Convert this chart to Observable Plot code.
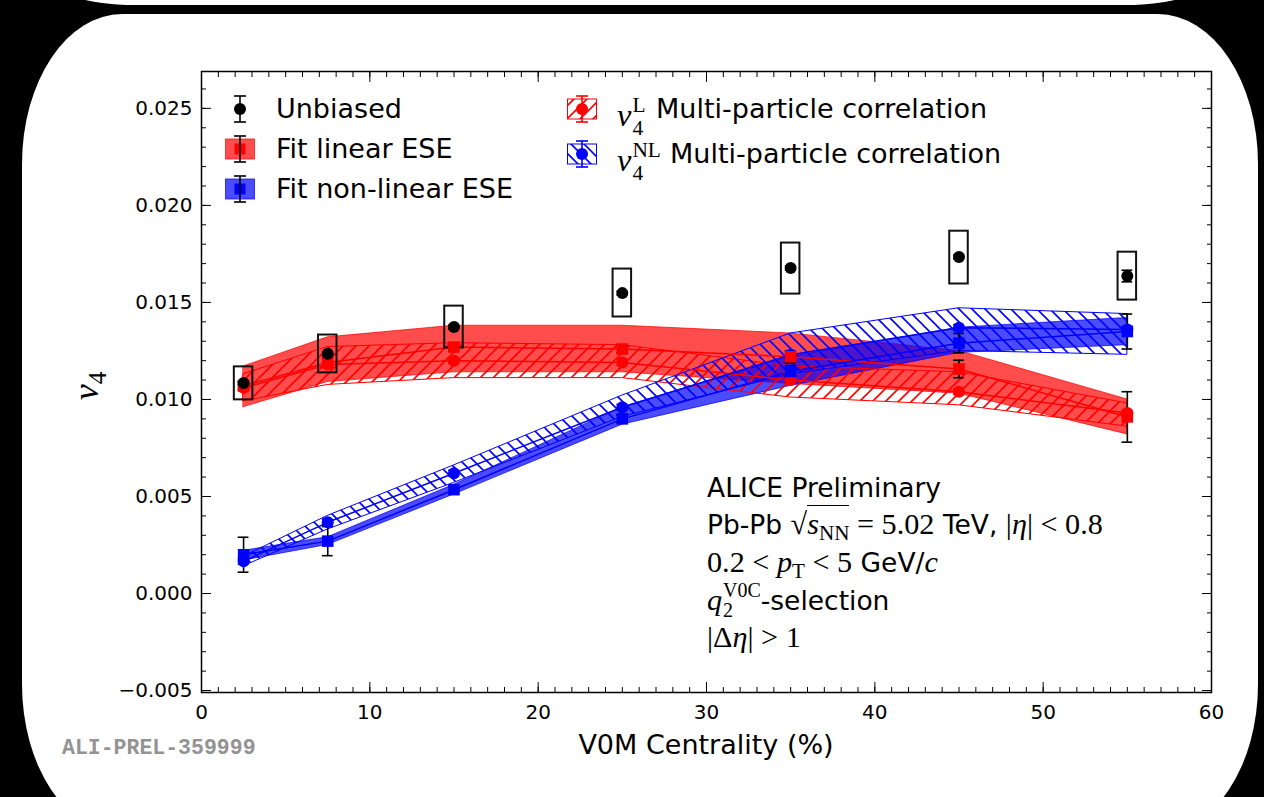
<!DOCTYPE html>
<html><head><meta charset="utf-8">
<script src="https://cdn.jsdelivr.net/npm/d3@7"></script>
<script src="https://cdn.jsdelivr.net/npm/@observablehq/plot@0.6"></script>
<style>
html,body{margin:0;padding:0;background:#000;width:1264px;height:797px;overflow:hidden;font-family:"DejaVu Sans",sans-serif;color:#000;}
#topstrip{position:absolute;left:45px;top:-30px;width:1170px;height:35px;background:#fff;border-radius:0 0 90px 90px / 0 0 30px 30px;}
#panel{position:absolute;left:22px;top:14px;width:1236px;height:820px;background:#fff;border-radius:100px/150px;}
#chart{position:absolute;left:0;top:0;}
.abs{position:absolute;white-space:nowrap;}
.leg{font-size:27px;line-height:30px;height:30px;}
.ann{font-size:26.5px;line-height:36px;height:36px;}
.m{font-family:"Liberation Serif","DejaVu Serif",serif;font-size:1.14em;}
.m i{font-style:italic;}
.ss{display:inline-block;vertical-align:-0.42em;line-height:1.08;font-size:0.66em;text-align:left;margin-left:1px;}
.ss span{display:block;}
.sub{font-size:0.7em;vertical-align:-0.3em;}
</style></head>
<body>
<svg width="0" height="0" style="position:absolute">
  <defs>
    <pattern id="hatchR" patternUnits="userSpaceOnUse" width="13" height="13">
      <path d="M-3,3 L3,-3 M0,13 L13,0 M10,16 L16,10" stroke="#ff0000" stroke-width="1.6"/>
    </pattern>
    <pattern id="hatchB" patternUnits="userSpaceOnUse" width="13" height="13">
      <path d="M-3,10 L3,16 M0,0 L13,13 M10,-3 L16,3" stroke="#0000ff" stroke-width="1.6"/>
    </pattern>
  </defs>
</svg>
<div id="topstrip"></div>
<div id="panel"></div>
<div id="chart"></div>

<!-- legend -->
<div class="abs" style="left:224px;top:94px;">
<svg width="32" height="30"><line x1="16" y1="2" x2="16" y2="28" stroke="#000" stroke-width="1.6"/><line x1="10" y1="2" x2="22" y2="2" stroke="#000" stroke-width="1.6"/><line x1="10" y1="28" x2="22" y2="28" stroke="#000" stroke-width="1.6"/><circle cx="16" cy="15" r="6" fill="#000"/></svg></div>
<div class="abs leg" style="left:276px;top:94px;">Unbiased</div>

<div class="abs" style="left:224px;top:134px;">
<svg width="32" height="30"><rect x="1.5" y="5" width="29" height="20" fill="rgba(255,0,0,0.7)" stroke="rgba(255,0,0,0.7)"/><rect x="10.5" y="9.5" width="11" height="11" fill="#ff0000"/><line x1="16" y1="2" x2="16" y2="28" stroke="#000" stroke-width="1.6"/><line x1="10" y1="2" x2="22" y2="2" stroke="#000" stroke-width="1.6"/><line x1="10" y1="28" x2="22" y2="28" stroke="#000" stroke-width="1.6"/></svg></div>
<div class="abs leg" style="left:276px;top:134px;">Fit linear ESE</div>

<div class="abs" style="left:224px;top:174px;">
<svg width="32" height="30"><rect x="1.5" y="5" width="29" height="20" fill="rgba(0,0,255,0.7)" stroke="rgba(0,0,255,0.7)"/><rect x="10.5" y="9.5" width="11" height="11" fill="#0000ff"/><line x1="16" y1="2" x2="16" y2="28" stroke="#000" stroke-width="1.6"/><line x1="10" y1="2" x2="22" y2="2" stroke="#000" stroke-width="1.6"/><line x1="10" y1="28" x2="22" y2="28" stroke="#000" stroke-width="1.6"/></svg></div>
<div class="abs leg" style="left:276px;top:174px;">Fit non-linear ESE</div>

<div class="abs" style="left:566px;top:94px;">
<svg width="32" height="30"><rect x="1.5" y="5" width="29" height="20" fill="url(#hatchR)" stroke="#ff0000" stroke-width="1"/><line x1="16" y1="2" x2="16" y2="28" stroke="#ff0000" stroke-width="1.6"/><line x1="10" y1="2" x2="22" y2="2" stroke="#ff0000" stroke-width="1.6"/><line x1="10" y1="28" x2="22" y2="28" stroke="#ff0000" stroke-width="1.6"/><circle cx="16" cy="15" r="6" fill="#ff0000"/></svg></div>
<div class="abs leg" style="left:617px;top:94px;"><span class="m" style="font-size:1.2em"><i>v</i><span class="ss"><span>L</span><span>4</span></span></span></div>
<div class="abs leg" style="left:656px;top:94px;">Multi-particle correlation</div>

<div class="abs" style="left:566px;top:139px;">
<svg width="32" height="30"><rect x="1.5" y="5" width="29" height="20" fill="url(#hatchB)" stroke="#0000ff" stroke-width="1"/><line x1="16" y1="2" x2="16" y2="28" stroke="#0000ff" stroke-width="1.6"/><line x1="10" y1="2" x2="22" y2="2" stroke="#0000ff" stroke-width="1.6"/><line x1="10" y1="28" x2="22" y2="28" stroke="#0000ff" stroke-width="1.6"/><circle cx="16" cy="15" r="6" fill="#0000ff"/></svg></div>
<div class="abs leg" style="left:617px;top:139px;"><span class="m" style="font-size:1.2em"><i>v</i><span class="ss"><span>NL</span><span>4</span></span></span></div>
<div class="abs leg" style="left:670px;top:139px;">Multi-particle correlation</div>

<!-- annotation -->
<div class="abs ann" style="left:707px;top:470px;">ALICE Preliminary</div>
<div class="abs ann" style="left:707px;top:506px;">Pb-Pb <span class="m">√<span style="border-top:1.5px solid #000;padding-top:1px;"><i>s</i><span class="sub">NN</span></span> = 5.02</span> TeV, <span class="m">|<i>η</i>| &lt; 0.8</span></div>
<div class="abs ann" style="left:707px;top:544px;"><span class="m">0.2 &lt; <i>p</i><span class="sub">T</span> &lt; 5</span> GeV/<span class="m"><i>c</i></span></div>
<div class="abs ann" style="left:707px;top:581px;height:34px;"><span class="m"><i>q</i><span class="ss" style="line-height:1.0;vertical-align:-0.36em"><span>V0C</span><span>2</span></span></span>-selection</div>
<div class="abs ann" style="left:707px;top:624px;height:26px;line-height:26px;"><span class="m">|Δ<i>η</i>| &gt; 1</span></div>

<!-- axis titles -->
<div class="abs" style="left:706px;top:728px;transform:translateX(-50%);font-size:27px;line-height:34px;">V0M Centrality (%)</div>
<div class="abs" style="left:92px;top:386px;transform:translate(-50%,-50%) rotate(-90deg);font-size:36px;line-height:40px;font-family:'Liberation Serif',serif;"><i>v</i><span class="sub">4</span></div>
<div class="abs" style="left:62px;top:736px;font-family:'Liberation Mono','DejaVu Sans Mono',monospace;font-weight:bold;font-size:21.5px;line-height:24px;color:#939393;">ALI-PREL-359999</div>

<script>
// ---- data ----
const centrality = [2.5, 7.5, 15, 25, 35, 45, 55];

const unbiasedV4   = [0.01085, 0.01235, 0.01373, 0.01548, 0.01677, 0.01734, 0.01636];
const unbiasedStat = [0.0001, 0.0001, 0.0001, 0.0001, 0.0001, 0.0001, 0.0003];
const unbiasedSysLo = [0.00998, 0.01137, 0.01265, 0.01425, 0.01543, 0.01595, 0.01512];
const unbiasedSysHi = [0.01168, 0.01332, 0.01481, 0.01672, 0.01806, 0.01867, 0.01759];

const linFitV4  = [0.0107, 0.0119, 0.0127, 0.0126, 0.0122, 0.01157, 0.0091];
const linFitErr = [0.0002, 0.0002, 0.0002, 0.0002, 0.0003, 0.00045, 0.0013];
const linFitLo  = [0.0096, 0.0109, 0.0114, 0.0114, 0.0108, 0.0103, 0.0082];
const linFitHi  = [0.0117, 0.0132, 0.0138, 0.0138, 0.0134, 0.0125, 0.0100];

const nlFitV4  = [0.0020, 0.0027, 0.00535, 0.0090, 0.01144, 0.0129, 0.0135];
const nlFitErr = [0.0009, 0.00075, 0.0002, 0.0002, 0.0003, 0.0005, 0.0009];
const nlFitLo  = [0.0017, 0.0025, 0.0051, 0.0087, 0.0107, 0.0124, 0.0128];
const nlFitHi  = [0.0022, 0.0029, 0.0056, 0.0096, 0.0122, 0.0137, 0.0142];

const mpcLV4   = [0.0106, 0.0118, 0.0120, 0.0119, 0.0110, 0.0104, 0.0093];
const mpcLStat = [0.00015, 0.00015, 0.00015, 0.00015, 0.00015, 0.00015, 0.00015];
const mpcLLo   = [0.0099, 0.01075, 0.0111, 0.0111, 0.0101, 0.0097, 0.0086];
const mpcLHi   = [0.0113, 0.0127, 0.0129, 0.0128, 0.0117, 0.0114, 0.0098];

const mpcNLV4   = [0.00166, 0.00367, 0.0062, 0.0096, 0.0123, 0.0137, 0.0136];
const mpcNLStat = [0.00015, 0.00015, 0.00015, 0.00015, 0.00015, 0.00015, 0.00015];
const mpcNLLo   = [0.0014, 0.0033, 0.0057, 0.0091, 0.0113, 0.0125, 0.0123];
const mpcNLHi   = [0.0019, 0.0040, 0.0066, 0.0102, 0.0134, 0.0147, 0.0144];

const xMajor = [0, 10, 20, 30, 40, 50, 60];
const xMinor = d3.range(0, 61, 1);
const yMajor = [-5, 0, 5, 10, 15, 20, 25].map(v => v / 1000);
const yMinor = d3.range(-5, 27, 1).map(v => v / 1000);

const rows = centrality.map((x, i) => ({
  x,
  unb: unbiasedV4[i], unbE: unbiasedStat[i], unbLo: unbiasedSysLo[i], unbHi: unbiasedSysHi[i],
  lin: linFitV4[i], linE: linFitErr[i], linLo: linFitLo[i], linHi: linFitHi[i],
  nl: nlFitV4[i], nlE: nlFitErr[i], nlLo: nlFitLo[i], nlHi: nlFitHi[i],
  mL: mpcLV4[i], mLE: mpcLStat[i], mLLo: mpcLLo[i], mLHi: mpcLHi[i],
  mNL: mpcNLV4[i], mNLE: mpcNLStat[i], mNLLo: mpcNLLo[i], mNLHi: mpcNLHi[i]
}));

function errbars(data, key, ekey, color, cap = 0.32, sw = 1.6) {
  return [
    Plot.ruleX(data, {x: "x", y1: d => d[key] - d[ekey], y2: d => d[key] + d[ekey], stroke: color, strokeWidth: sw}),
    Plot.ruleY(data, {y: d => d[key] - d[ekey], x1: d => d.x - cap, x2: d => d.x + cap, stroke: color, strokeWidth: sw}),
    Plot.ruleY(data, {y: d => d[key] + d[ekey], x1: d => d.x - cap, x2: d => d.x + cap, stroke: color, strokeWidth: sw})
  ];
}

const noText = () => "";
const chart = Plot.plot({
  width: 1264, height: 797,
  marginLeft: 201, marginRight: 53, marginTop: 71, marginBottom: 105,
  style: {background: "transparent", overflow: "visible", fontFamily: "DejaVu Sans", color: "#000"},
  x: {domain: [0, 60], label: null},
  y: {domain: [-0.0051, 0.0269], label: null},
  marks: [
    // bands
    Plot.areaY(rows, {x: "x", y1: "linLo", y2: "linHi", fill: "#ff0000", fillOpacity: 0.7, stroke: "#ff0000", strokeOpacity: 0.7, strokeWidth: 1}),
    Plot.areaY(rows, {x: "x", y1: "nlLo", y2: "nlHi", fill: "#0000ff", fillOpacity: 0.7, stroke: "#0000ff", strokeOpacity: 0.7, strokeWidth: 1}),
    Plot.areaY(rows, {x: "x", y1: "mLLo", y2: "mLHi", fill: "url(#hatchR)", stroke: "#ff0000", strokeWidth: 1}),
    Plot.areaY(rows, {x: "x", y1: "mNLLo", y2: "mNLHi", fill: "url(#hatchB)", stroke: "#0000ff", strokeWidth: 1}),
    // central lines
    Plot.line(rows, {x: "x", y: "lin", stroke: "#ff0000", strokeWidth: 1.5}),
    Plot.line(rows, {x: "x", y: "nl", stroke: "#0000ff", strokeWidth: 1.5}),
    Plot.line(rows, {x: "x", y: "mL", stroke: "#ff0000", strokeWidth: 1.5}),
    Plot.line(rows, {x: "x", y: "mNL", stroke: "#0000ff", strokeWidth: 1.5}),
    // unbiased systematic boxes
    Plot.rect(rows, {x1: d => d.x - 0.55, x2: d => d.x + 0.55, y1: "unbLo", y2: "unbHi", fill: "none", stroke: "#111", strokeWidth: 2}),
    // error bars
    ...errbars(rows, "mL", "mLE", "#ff0000"),
    ...errbars(rows, "mNL", "mNLE", "#0000ff"),
    ...errbars(rows, "lin", "linE", "#000"),
    ...errbars(rows, "nl", "nlE", "#000"),
    ...errbars(rows, "unb", "unbE", "#000"),
    // points
    Plot.dot(rows, {x: "x", y: "mL", r: 6, fill: "#ff0000"}),
    Plot.dot(rows, {x: "x", y: "mNL", r: 6, fill: "#0000ff"}),
    Plot.dot(rows, {x: "x", y: "lin", symbol: "square", r: 6.5, fill: "#ff0000"}),
    Plot.dot(rows, {x: "x", y: "nl", symbol: "square", r: 6.5, fill: "#0000ff"}),
    Plot.dot(rows, {x: "x", y: "unb", r: 6, fill: "#000"}),
    // frame and inward ticks
    Plot.frame({stroke: "#000", strokeWidth: 1.5}),
    Plot.axisX({anchor: "bottom", ticks: xMajor, tickSize: -10, tickFormat: noText, label: null}),
    Plot.axisX({anchor: "top", ticks: xMajor, tickSize: -10, tickFormat: noText, label: null}),
    Plot.axisX({anchor: "bottom", ticks: xMinor, tickSize: -5, tickFormat: noText, label: null}),
    Plot.axisX({anchor: "top", ticks: xMinor, tickSize: -5, tickFormat: noText, label: null}),
    Plot.axisY({anchor: "left", ticks: yMajor, tickSize: -10, tickFormat: noText, label: null}),
    Plot.axisY({anchor: "right", ticks: yMajor, tickSize: -10, tickFormat: noText, label: null}),
    Plot.axisY({anchor: "left", ticks: yMinor, tickSize: -5, tickFormat: noText, label: null}),
    Plot.axisY({anchor: "right", ticks: yMinor, tickSize: -5, tickFormat: noText, label: null}),
    // tick labels
    Plot.axisX({anchor: "bottom", ticks: xMajor, tickSize: 0, tickPadding: 12, fontSize: 20, label: null, tickFormat: d3.format("d")}),
    Plot.axisY({anchor: "left", ticks: yMajor, tickSize: 0, tickPadding: 9, fontSize: 20, label: null, tickFormat: d3.format(".3f")})
  ]
});
document.getElementById("chart").appendChild(chart);
</script>
</body></html>
